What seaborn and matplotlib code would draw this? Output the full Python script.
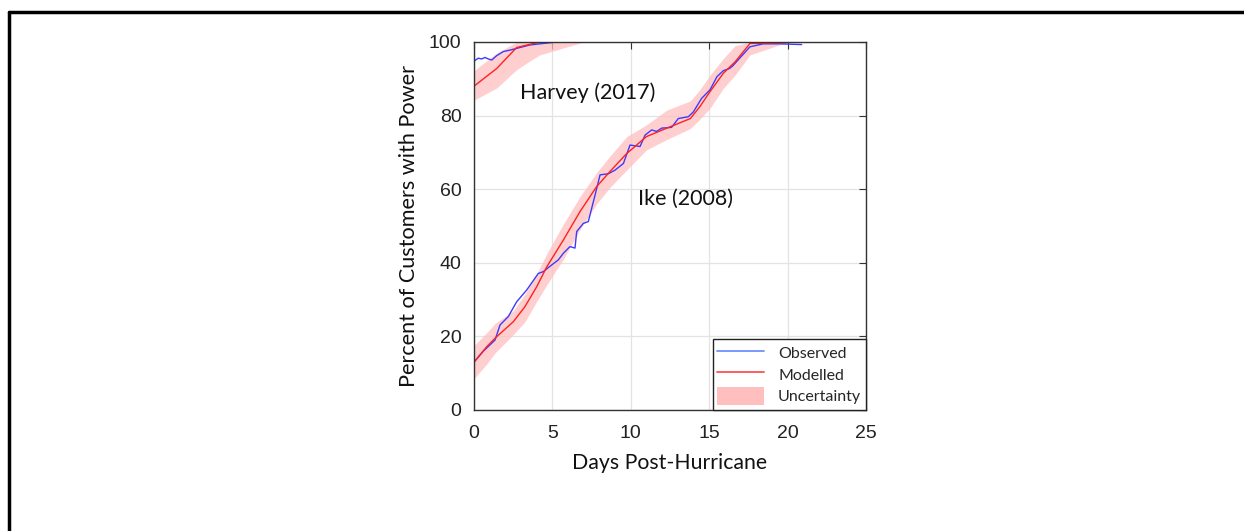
import pandas as pd
import matplotlib.pyplot as plt
import seaborn as sns
from matplotlib.lines import Line2D
from matplotlib.patches import Patch

# === DATA ===
HARVEY_OBS_DAYS = [0, 0.27, 0.49, 0.7, 0.91, 1.13, 1.45, 1.87, 2.3, 2.93, 3.57, 4.2, 5.06]
HARVEY_OBS_VALS = [94.8, 95.6, 95.4, 95.8, 95.4, 95.1, 96.3, 97.4, 97.8, 98.5, 99.2, 99.5, 99.9]

HARVEY_MOD_DAYS = [0, 1.45, 2.72, 3.8, 4.2, 7.0]
HARVEY_MOD_VALS = [88.0, 92.8, 98.5, 99.6, 100.0, 100.0]
HARVEY_LOW = [84.2, 87.5, 92.5, 95.5, 96.5, 100.0]
HARVEY_UP = [92.2, 97.0, 100.0, 100.0, 100.0, 100.0]

IKE_OBS_DAYS = [0, 0.6, 1.34, 1.66, 2.19, 2.72, 3.36, 4.1, 4.42, 4.95, 5.38, 5.7,
                6.12, 6.44, 6.55, 6.97, 7.29, 7.72, 8.04, 8.57, 9.0, 9.53, 9.95,
                10.59, 10.91, 11.33, 11.65, 11.97, 12.6, 13.03, 13.67, 13.99,
                14.52, 15.05, 15.5, 15.9, 16.3, 16.5, 17.6, 18.45, 19.5, 20.9]
IKE_OBS_VALS = [13.0, 16.0, 19.0, 23.1, 25.4, 29.4, 32.6, 37.1, 37.6, 39.4, 40.8, 42.6,
                44.4, 44.0, 48.5, 50.7, 51.2, 58.4, 63.9, 64.2, 65.2, 67.0, 72.0,
                71.6, 74.7, 76.1, 75.7, 76.6, 76.8, 79.2, 79.7, 81.0,
                84.7, 87.0, 90.6, 92.2, 92.8, 93.5, 98.7, 99.5, 99.5, 99.3]

IKE_MOD_DAYS = [0, 0.81, 1.34, 2.51, 3.25, 4.0, 4.64, 5.7, 6.76, 7.82, 8.67, 9.74,
                11.0, 12.3, 13.8, 14.4, 15.05, 15.9, 16.65, 17.6, 19.9]
IKE_MOD_VALS = [13.0, 17.2, 19.5, 24.0, 28.1, 33.5, 38.9, 46.2, 53.9, 60.7, 64.8, 69.7,
                74.3, 76.6, 79.2, 82.4, 86.5, 91.5, 94.6, 99.6, 99.8]
IKE_LOW = [8.5, 12.5, 15.5, 20.5, 24.0, 29.5, 34.0, 41.0, 49.0, 56.0, 60.5, 65.2,
           70.7, 73.5, 76.5, 79.0, 82.0, 87.4, 91.0, 96.5, 99.8]
IKE_UP = [17.5, 21.0, 23.5, 27.0, 31.5, 37.0, 42.5, 50.5, 58.0, 64.5, 69.0, 74.3,
          77.5, 81.5, 84.0, 87.0, 91.0, 95.5, 99.0, 100.0, 100.0]

X_TICKS = [0, 5, 10, 15, 20, 25]
Y_TICKS = [0, 20, 40, 60, 80, 100]
# === END DATA ===

COLOR_OBS = '#3b3bff'
COLOR_MOD = '#ff2020'
COLOR_BAND = '#ffbfbf'
TICK_COLOR = '#222222'
LABEL_FONT = ['Lato', 'DejaVu Sans']
TICK_FONT = ['Liberation Sans', 'DejaVu Sans']

sns.set_theme(style='whitegrid')
plt.rcParams['font.family'] = LABEL_FONT

obs = pd.concat([
    pd.DataFrame({'day': HARVEY_OBS_DAYS, 'pct': HARVEY_OBS_VALS, 'storm': 'Harvey'}),
    pd.DataFrame({'day': IKE_OBS_DAYS, 'pct': IKE_OBS_VALS, 'storm': 'Ike'}),
])
mod = pd.concat([
    pd.DataFrame({'day': HARVEY_MOD_DAYS, 'pct': HARVEY_MOD_VALS, 'storm': 'Harvey'}),
    pd.DataFrame({'day': IKE_MOD_DAYS, 'pct': IKE_MOD_VALS, 'storm': 'Ike'}),
])

fig = plt.figure(figsize=(12.44, 5.31), dpi=100)
ax = fig.add_axes([474 / 1244, 1 - 410 / 531, 392 / 1244, 368 / 531])
ax.set_facecolor('white')

ax.fill_between(HARVEY_MOD_DAYS, HARVEY_LOW, HARVEY_UP, color=COLOR_BAND, lw=0, alpha=0.75)
ax.fill_between(IKE_MOD_DAYS, IKE_LOW, IKE_UP, color=COLOR_BAND, lw=0, alpha=0.75)

sns.lineplot(data=obs, x='day', y='pct', units='storm', estimator=None,
             color=COLOR_OBS, lw=1.0, ax=ax, sort=False)
sns.lineplot(data=mod, x='day', y='pct', units='storm', estimator=None,
             color=COLOR_MOD, lw=1.0, ax=ax, sort=False)

ax.set_xlim(0, 25)
ax.set_ylim(0, 100)
ax.set_xticks(X_TICKS)
ax.set_yticks(Y_TICKS)
ax.set_xticklabels([str(t) for t in X_TICKS], fontfamily=TICK_FONT)
ax.set_yticklabels([str(t) for t in Y_TICKS], fontfamily=TICK_FONT)
ax.grid(True, color='#e3e3e3', lw=0.9)
for s in ax.spines.values():
    s.set_color('#333333')
    s.set_linewidth(1.0)
ax.tick_params(direction='in', length=5, width=0.8, color='#333333',
               top=True, right=True, labelsize=14, labelcolor=TICK_COLOR)
ax.tick_params(axis='x', pad=11)
ax.tick_params(axis='y', pad=9)

ax.set_xlabel('Days Post-Hurricane', fontsize=15.3, color='#111111', labelpad=8)
ax.set_ylabel('Percent of Customers with Power', fontsize=15.6, color='#111111', labelpad=7)

ax.text(7.27, 86.2, 'Harvey (2017)', fontsize=15.5, color='#111111', ha='center', va='center')
ax.text(13.46, 57.3, 'Ike (2008)', fontsize=15.5, color='#111111', ha='center', va='center')

handles = [Line2D([], [], color='#7090ff', lw=1.3),
           Line2D([], [], color='#ff5050', lw=1.3),
           Patch(facecolor=COLOR_BAND, edgecolor='none')]
leg = ax.legend(handles, ['Observed', 'Modelled', 'Uncertainty'], loc='lower right',
                fontsize=11.5, frameon=True, fancybox=False, borderaxespad=0,
                handlelength=2.9, handleheight=1.4, handletextpad=0.9,
                labelspacing=0.2, borderpad=0.3)
leg.get_frame().set_edgecolor('#222222')
leg.get_frame().set_linewidth(1.0)
leg.get_frame().set_alpha(1)

# frame around the figure (top and left edges)
fig.add_artist(Line2D([9 / 1244, 1], [1 - 12 / 531] * 2, color='black', lw=2.5,
                      transform=fig.transFigure))
fig.add_artist(Line2D([9 / 1244] * 2, [0, 1 - 12 / 531], color='black', lw=2.5,
                      transform=fig.transFigure))

fig.savefig('out.png', dpi=100)
